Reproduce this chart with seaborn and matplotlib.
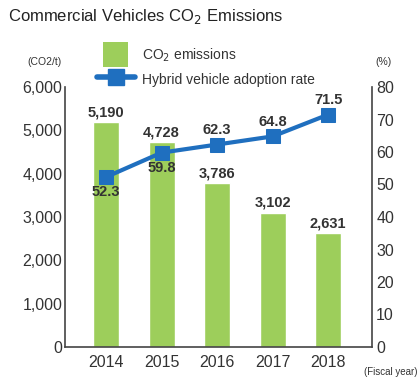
import matplotlib
matplotlib.use("Agg")
import matplotlib.pyplot as plt
import seaborn as sns
import pandas as pd
from matplotlib.lines import Line2D
from matplotlib.patches import Patch, Rectangle
from matplotlib.legend_handler import HandlerPatch

years = ["2014", "2015", "2016", "2017", "2018"]
co2 = [5190, 4728, 3786, 3102, 2631]
co2_labels = ["5,190", "4,728", "3,786", "3,102", "2,631"]
hybrid = [52.3, 59.8, 62.3, 64.8, 71.5]
left_ticks = [0, 1000, 2000, 3000, 4000, 5000, 6000]
left_ticklabels = ["0", "1,000", "2,000", "3,000", "4,000", "5,000", "6,000"]
right_ticks = [0, 10, 20, 30, 40, 50, 60, 70, 80]

sns.set_style("white")
plt.rcParams['font.family'] = ['Liberation Sans Narrow', 'Liberation Sans', 'DejaVu Sans']

green = "#9dce5b"
blue = "#1f6fbf"
txt = "#333333"

df = pd.DataFrame({"year": years, "co2": co2, "hybrid": hybrid})

fig = plt.figure(figsize=(4.19, 3.85), dpi=100)
ax = fig.add_axes([65/419, 1-347/385, (372-65)/419, (347-87)/385])
sns.barplot(data=df, x="year", y="co2", color=green, width=0.47, ax=ax, saturation=1)
ax.set_ylim(0, 6000)
ax.set_xlim(-0.74, 4.79)
ax.set_yticks(left_ticks)
ax.set_yticklabels(left_ticklabels)
ax.set_xlabel("")
ax.set_ylabel("")
for s in ["top", "right"]:
    ax.spines[s].set_visible(False)
for s in ["left", "bottom"]:
    ax.spines[s].set_color("#444444")
    ax.spines[s].set_linewidth(1.2)
ax.tick_params(axis="both", length=0, labelsize=11.5, colors=txt, pad=2)
ax.tick_params(axis="x", pad=6)

for i, (v, lab) in enumerate(zip(co2, co2_labels)):
    ax.text(i, v + 60, lab, ha="center", va="bottom", fontsize=10.5, fontweight="bold", color=txt)

ax2 = ax.twinx()
sns.lineplot(x=list(range(len(years))), y=hybrid, ax=ax2, color=blue, linewidth=3,
             marker="s", markersize=10, markeredgecolor=blue)
ax2.set_ylim(0, 80)
ax2.set_yticks(right_ticks)
ax2.tick_params(axis="y", length=0, labelsize=11.5, colors=txt, pad=3)
for s in ["top", "left", "bottom"]:
    ax2.spines[s].set_visible(False)
ax2.spines["right"].set_color("#444444")
ax2.spines["right"].set_linewidth(1.2)

offsets = [-1, -1, 1, 1, 1]
for i, (v, o) in enumerate(zip(hybrid, offsets)):
    if o < 0:
        ax2.text(i, v - 2.6, f"{v}", ha="center", va="top", fontsize=10.5, fontweight="bold", color=txt)
    else:
        ax2.text(i, v + 2.4, f"{v}", ha="center", va="bottom", fontsize=10.5, fontweight="bold", color=txt)

fig.text(8/419, 1-17/385, "Commercial Vehicles CO$_2$ Emissions", fontsize=12, color="#222222", va="center", ha="left")
fig.text(44/419, 1-62/385, "(CO2/t)", fontsize=7.5, color=txt, ha="center", va="center")
fig.text(383/419, 1-62/385, "(%)", fontsize=7.5, color=txt, ha="center", va="center")
fig.text(417/419, 1-372/385, "(Fiscal year)", fontsize=7, color=txt, ha="right", va="center")


class SquareHandler(HandlerPatch):
    def create_artists(self, legend, orig_handle, xdescent, ydescent, width, height, fontsize, trans):
        s = 18
        p = Rectangle((width / 2 - s / 2 - xdescent, height / 2 - s / 2 - ydescent), s, s,
                      facecolor=orig_handle.get_facecolor(), edgecolor="none", transform=trans)
        return [p]


sq = Patch(facecolor=green, edgecolor="none")
handles = [sq, Line2D([0], [0], color=blue, linewidth=4, marker="s", markersize=11)]
leg = fig.legend(handles, ["CO$_2$ emissions", "Hybrid vehicle adoption rate"],
                 loc="upper left", bbox_to_anchor=(84/419, 1-33/385), frameon=False,
                 fontsize=10, handlelength=2.8, handleheight=1.7, labelspacing=0.45,
                 handletextpad=0.5, labelcolor=txt, handler_map={sq: SquareHandler()})

fig.savefig("out.png", dpi=100)
